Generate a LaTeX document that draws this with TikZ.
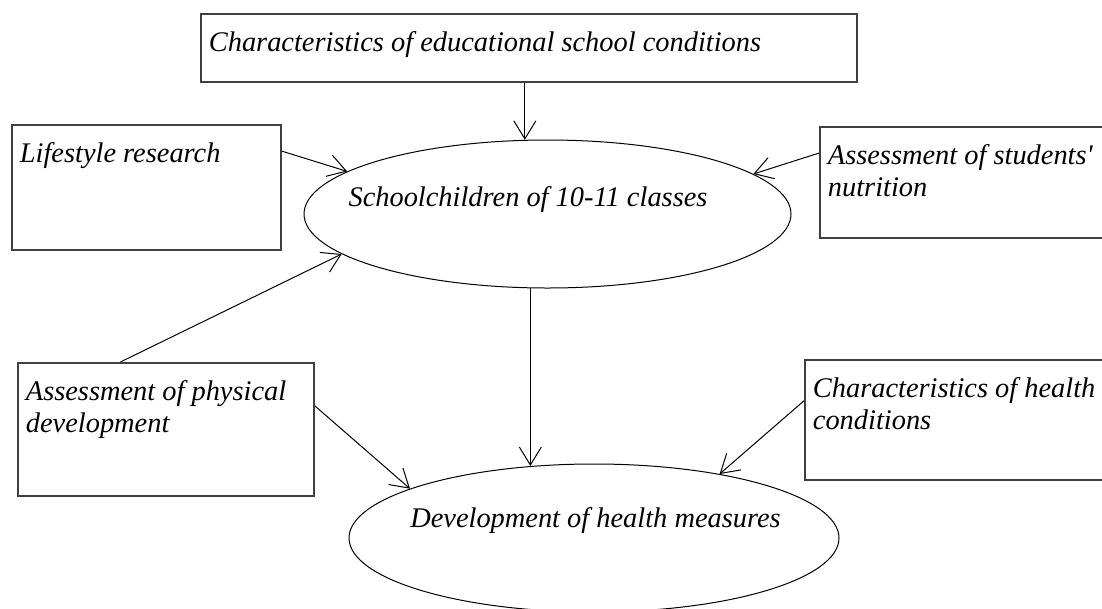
\documentclass[tikz,border=0pt]{standalone}
\usepackage{fontspec}
\setmainfont{Liberation Serif}[Ligatures=TeXOff]
\usetikzlibrary{shapes.geometric, arrows.meta}
\newcommand{\boxtext}[3]{\parbox[t][#2][t]{#1}{\raggedright\vspace{15.6pt}\strut #3}}

\begin{document}
\begin{tikzpicture}[x=1pt, y=-1pt,
  font=\itshape\fontsize{28.4}{32}\selectfont,
  box/.style={draw=black!75, line width=1.8pt, anchor=north west, inner xsep=8pt, inner ysep=0pt},
  oval/.style={draw, ellipse, line width=1pt, inner sep=0pt, minimum width=#1, minimum height=148pt},
  arr/.style={-{Straight Barb[length=18pt, width=22pt]}, line width=1pt}]
\useasboundingbox (0,0) rectangle (1102,608);
% boxes
\node[box] (conds) at (200,13) {\boxtext{640pt}{68pt}{Characteristics of educational school conditions}};
\node[box] (life) at (11,124) {\boxtext{253pt}{125pt}{Lifestyle research}};
\node[box] (food) at (819,126) {\boxtext{284pt}{111pt}{Assessment of students'\\nutrition}};
\node[box] (phys) at (17,362) {\boxtext{280pt}{133pt}{Assessment of physical\\development}};
\node[box] (health) at (804,359) {\boxtext{294pt}{120pt}{Characteristics of health\\conditions}};
% ellipses
\node[oval=487pt, label={[xshift=-19.5pt, yshift=14pt]center:Schoolchildren of 10-11 classes}] (pupils) at (547.5,214) {};
\node[oval=490pt, label={[xshift=1.5pt, yshift=17.5pt]center:Development of health measures}] (measures) at (594,538) {};
% arrows
\draw[arr] (conds.south -| pupils.107) -- (pupils.107);
\draw[arr] (life.15) -- (pupils.168);
\draw[arr] (food.169) -- (pupils.11);
\draw[arr] (phys.124) -- (pupils.191);
\draw[arr] (pupils.257) -- (pupils.257 |- measures.131);
\draw[arr] (phys.9) -- (measures.165);
\draw[arr] (health.173) -- (measures.27);
\end{tikzpicture}
\end{document}
